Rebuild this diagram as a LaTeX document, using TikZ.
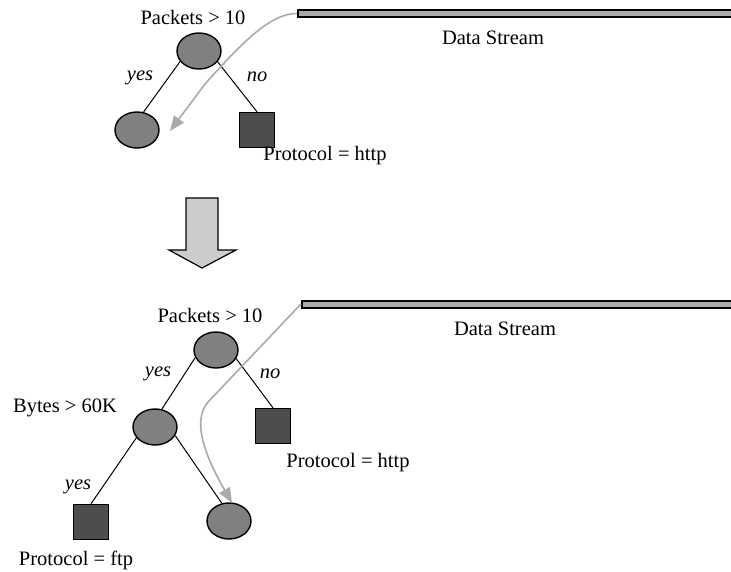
\documentclass[tikz,border=0pt]{standalone}
\usepackage{fontspec}
\setmainfont{Liberation Serif}
\usetikzlibrary{shapes.geometric,arrows.meta}
\definecolor{nodegray}{RGB}{128,128,128}
\definecolor{leafgray}{RGB}{77,77,77}
\definecolor{bargray}{RGB}{170,170,170}
\definecolor{flowgray}{RGB}{170,170,170}
\definecolor{bigarrow}{RGB}{204,204,204}
\tikzset{
  inode/.style={ellipse, draw=black, line width=1.4pt, fill=nodegray, minimum width=44pt, minimum height=36pt, inner sep=0pt},
  leaf/.style={rectangle, draw=black, line width=1.4pt, fill=leafgray, minimum width=35pt, minimum height=35pt, inner sep=0pt},
  lbl/.style={inner sep=0pt, font=\fontsize{20.5}{24}\selectfont},
  ilbl/.style={inner sep=0pt, font=\fontsize{20.5}{24}\selectfont\itshape},
  edge/.style={line width=1pt, draw=black},
  databar/.style={rectangle, draw=black, line width=2pt, fill=bargray, minimum height=7pt, inner sep=0pt, anchor=west},
  flow/.style={draw=flowgray, line width=1.6pt, -{Triangle[length=15pt,width=12pt]}}
}
\begin{document}
\begin{tikzpicture}[x=1pt,y=-1pt]
\useasboundingbox (0,0) rectangle (731,571);
\clip (0,0) rectangle (731,571);

% ---------- top tree ----------
\node[inode] (r1) at (199,51) {};
\node[inode] (l1) at (137,130) {};
\node[leaf] (h1) at (257,130) {};
\node[lbl] (p1) at (193,17) {Packets > 10};
\node[ilbl] (y1) at (140,78) {yes};
\node[ilbl] (n1) at (257,77) {no};
\node[lbl] (ph1) at (325,156) {Protocol = http};
\draw[edge] (r1.209) -- (l1.70);
\draw[edge] (r1.-30) -- (h1.north);

\node[databar, minimum width=450pt] (b1) at (297,13.5) {};
\node[lbl] (d1) at (493,38) {Data Stream};
\coordinate (t1) at (170,131);
\draw[flow] (b1.west) .. controls (270,13) and (240,45) .. (205,84) -- (t1);

% ---------- big arrow ----------
\draw[line width=1.2pt, fill=bigarrow, line join=miter]
  (186,198) -- (218,198) -- (218,250) -- (236,250) -- (202,268) -- (169,250) -- (186,250) -- cycle;

% ---------- bottom tree ----------
\node[inode] (r2) at (216,350) {};
\node[inode] (b2n) at (155,427) {};
\node[leaf] (h2) at (273,426) {};
\node[leaf] (f2) at (91,522) {};
\node[inode] (e2) at (229,521) {};
\node[lbl] (p2) at (210,315) {Packets > 10};
\node[lbl] (by2) at (65,408) {Bytes > 60K};
\node[ilbl] (y2) at (158,374) {yes};
\node[ilbl] (n2) at (270,374) {no};
\node[ilbl] (y3) at (78,487) {yes};
\node[lbl] (ph2) at (348,463) {Protocol = http};
\node[lbl] (pf2) at (76,560) {Protocol = ftp};
\draw[edge] (r2.200) -- (b2n.69);
\draw[edge] (r2.-23) -- (h2.north);
\draw[edge] (b2n.210) -- (f2.north);
\draw[edge] (b2n.-23) -- (e2.112);

\node[databar, minimum width=450pt] (b2) at (301,304) {};
\node[lbl] (d2) at (505,329) {Data Stream};
\coordinate (t2) at (232,503);
\draw[flow] (b2.west) -- (209,401) .. controls (196,415) and (196,440) .. (t2);
\end{tikzpicture}
\end{document}
